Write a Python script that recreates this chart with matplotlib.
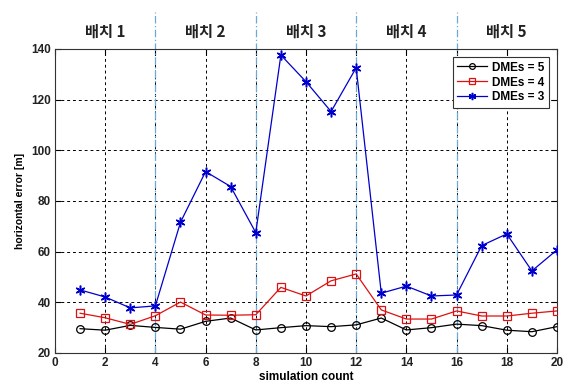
import matplotlib
matplotlib.use("Agg")
import matplotlib.pyplot as plt

# simulation index and horizontal error per DME count
sim_count = list(range(1, 21))
err_dme5 = [29.6, 29.0, 30.9, 30.1, 29.4, 32.5, 33.8, 29.1, 30.0, 30.8,
            30.4, 31.1, 33.8, 29.1, 30.0, 31.4, 30.8, 29.0, 28.4, 30.4]
err_dme4 = [35.7, 33.9, 31.3, 34.7, 40.1, 35.0, 34.9, 35.1, 45.9, 42.5,
            48.5, 51.2, 37.0, 33.4, 33.4, 36.6, 34.6, 34.6, 35.7, 36.6]
err_dme3 = [44.9, 42.1, 37.8, 38.6, 71.6, 91.6, 85.7, 67.5, 137.6, 127.1,
            115.3, 132.6, 43.6, 46.4, 42.5, 42.9, 62.4, 67.0, 52.4, 60.7]

batch_labels = ["배치 1", "배치 2", "배치 3", "배치 4", "배치 5"]
batch_centers = [2, 6, 10, 14, 18]
batch_bounds = [4, 8, 12, 16]

xticks = [0, 2, 4, 6, 8, 10, 12, 14, 16, 18, 20]
yticks = [20, 40, 60, 80, 100, 120, 140]

plt.rcParams["font.family"] = ["Liberation Sans", "DejaVu Sans"]

fig = plt.figure(figsize=(5.68, 3.91), dpi=100)
ax = fig.add_axes([0.0968, 0.0972, 0.8838, 0.7775])

ax.set_xlim(0, 20)
ax.set_ylim(20, 140)
ax.set_xticks(xticks)
ax.set_yticks(yticks)
ax.tick_params(direction="in", top=True, right=True, length=4, width=0.8,
               labelsize=8.5, pad=3)
for lab in ax.get_xticklabels() + ax.get_yticklabels():
    lab.set_fontweight("bold")
    lab.set_color("#222222")

ax.grid(True, color="black", linestyle=(0, (3, 3)), linewidth=0.7)
ax.set_axisbelow(True)
for sp in ax.spines.values():
    sp.set_linewidth(0.8)
    sp.set_color("#333333")

# batch separators, extended above the axes
ext = 1 + 37 / 304
for b in batch_bounds:
    ax.axvline(b, ymin=0, ymax=ext, color="#6aaad8", linestyle=(0, (6, 2, 1, 2)),
               linewidth=0.9, clip_on=False, zorder=1.5)

for lbl, c in zip(batch_labels, batch_centers):
    ax.text(c, 1.057, lbl, transform=ax.get_xaxis_transform(), ha="center",
            va="center", fontsize=11, fontweight="bold",
            family=["Noto Sans CJK KR", "DejaVu Sans"], color="#222222")

asterisk = (6, 2, 0)
ax.plot(sim_count, err_dme5, color="black", linewidth=0.9, marker="o",
        markersize=5.5, markerfacecolor="none", markeredgewidth=0.9,
        label="DMEs = 5", zorder=3)
ax.plot(sim_count, err_dme4, color="#dd1111", linewidth=0.9, marker="s",
        markersize=6, markerfacecolor="none", markeredgewidth=0.9,
        label="DMEs = 4", zorder=3)
ax.plot(sim_count, err_dme3, color="#0000cc", linewidth=0.9, marker=asterisk,
        markersize=7, markeredgewidth=1.1,
        label="DMEs = 3", zorder=3)

leg = ax.legend(loc="upper right", bbox_to_anchor=(0.988, 0.98),
                prop={"weight": "bold", "size": 8.5}, frameon=True,
                fancybox=False, edgecolor="#333333", framealpha=1,
                handlelength=2.6, handletextpad=0.4, borderpad=0.35,
                labelspacing=0.25, borderaxespad=0.2, markerscale=0.75)
leg.get_frame().set_linewidth(0.8)

ax.set_xlabel("simulation count", fontsize=8.5, fontweight="bold", labelpad=1)
ax.set_ylabel("horizontal error [m]", fontsize=7.5, fontweight="bold", labelpad=4)

fig.savefig("out.png", dpi=100)
